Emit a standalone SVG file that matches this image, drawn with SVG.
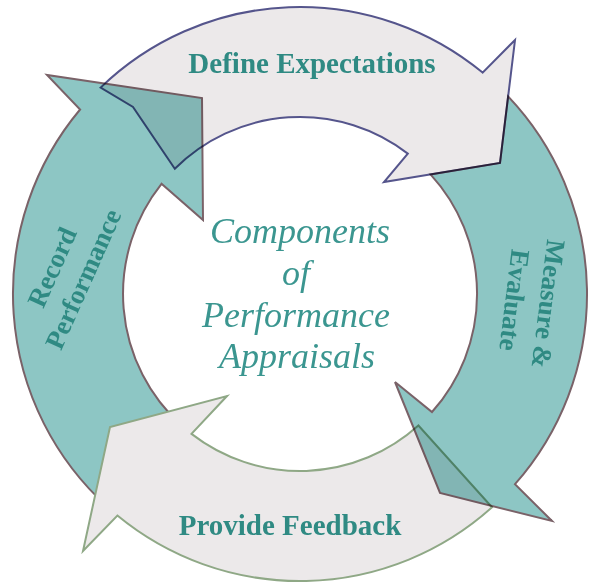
<svg xmlns="http://www.w3.org/2000/svg" width="592" height="584" viewBox="0 0 592 584">
<style>
.gray{fill:#ece9ea;stroke-width:2;stroke-linejoin:miter}
.top{stroke:#55558c}
.bot{stroke:#8fa886}
.teal{fill:#8dc6c4;stroke:#7a6268;stroke-width:2;mix-blend-mode:multiply}
.lbl{font-family:"Liberation Serif","Times New Roman",serif;font-weight:bold;font-size:29px;fill:#2f8a83;text-anchor:middle}
.side{font-size:27px}
.ctr{font-family:"Liberation Serif","Times New Roman",serif;font-style:italic;font-size:36px;fill:#3b9690;text-anchor:middle}
</style>
<rect width="592" height="584" fill="#ffffff"/>
<g id="connectors"/>
<g id="define-expectations">
<path class="gray top" d="M100.6,87.6 A287,287 0 0 1 482.6,72.6 L515,40 L500,163 L384,182 L407.8,153.6 A177,177 0 0 0 174.8,168.8 L133,107 Z"/>
<text class="lbl" x="312" y="73">Define Expectations</text>
</g>
<g id="record-performance">
<path class="teal" d="M108,507.3 A287,287 0 0 1 80.1,109.5 L47,75 L202,98 L203,220 L161.5,183.8 A177,177 0 0 0 181.6,425.5 Z"/>
<text class="lbl side" transform="translate(60.4,270.8) rotate(-66)">Record</text>
<text class="lbl side" transform="translate(91.4,282.8) rotate(-66)">Performance</text>
</g>
<g id="provide-feedback">
<path class="gray bot" d="M492,507.3 A287,287 0 0 1 117.4,515.5 L83,551 L110,427 L227,396 L191.5,433.9 A177,177 0 0 0 418.4,425.5 Z"/>
<text class="lbl" x="290" y="535">Provide Feedback</text>
</g>
<g id="measure-evaluate">
<path class="teal" d="M508.1,96.4 A287,287 0 0 1 515,484.2 L552,521 L440,493 L395,382 L432,412 A177,177 0 0 0 430.5,174.4 L500,163 Z"/>
<text class="lbl side" transform="translate(539.5,303) rotate(97)">Measure &amp;</text>
<text class="lbl side" transform="translate(505.5,299) rotate(97)">Evaluate</text>
</g>
<g id="center-title">
<text class="ctr" x="300" y="243">Components</text>
<text class="ctr" x="296" y="285">of</text>
<text class="ctr" x="296" y="327">Performance</text>
<text class="ctr" x="297" y="368">Appraisals</text>
</g>
</svg>
